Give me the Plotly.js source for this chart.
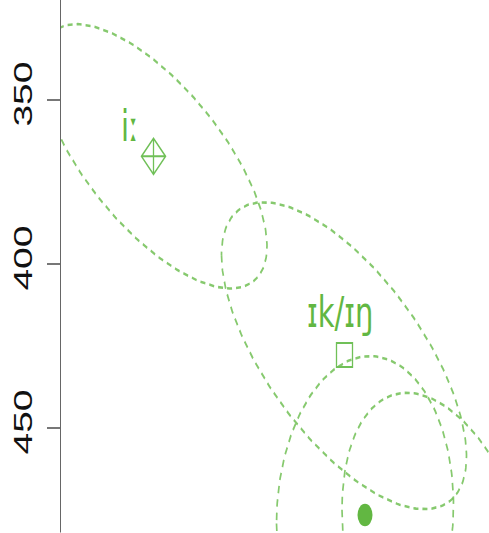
<!DOCTYPE html>
<html>
<head>
<meta charset="utf-8">
<script src="https://cdn.plot.ly/plotly-3.0.1.min.js"></script>
<style>
html, body { margin: 0; padding: 0; background: #fff; overflow: hidden; }
#wrap { width: 489px; height: 533px; overflow: hidden; position: relative; background: #fff; }
#chart { width: 489px; transform-origin: 0 0; }
</style>
</head>
<body>
<div id="wrap"><div id="chart"></div></div>
<script>
// ---- data (F2 / F1 in Hz) ----
const vowelLabels = ['iː', 'ɪk/ɪŋ', ''];
const meanF2 = [2615, 2233, 2192];
const meanF1 = [367.2, 427.8, 476.6];

// ellipse centres, half-extents and F2/F1 correlation
const ellF2 = [2615, 2234, 2192, 2036];
const ellF1 = [367.2, 428.0, 476.4, 494.7];
const ellHalfF2 = [227, 245, 177, 202];
const ellHalfF1 = [40.3, 46.8, 48.3, 55.4];
const ellRho = [-0.68, -0.656, 0.057, -0.356];

const yTicks = [350, 400, 450];

// ---- styling ----
const STRETCH = 1.5;           // vertical aspect of the original picture
const W = 489, H = 533;
const green = 'rgb(98,183,66)';
const ellColor = 'rgba(104,188,74,0.8)';
const symbols = ['diamond-cross-open', 'square-open', 'circle'];
const sizes = [18.5, 16, 15];
const labelShift = [[-24, 20], [-4, 29], [0, 0]];

document.getElementById('chart').style.height = (H / STRETCH) + 'px';
document.getElementById('chart').style.transform = 'scaleY(' + STRETCH + ')';

const traces = [];
for (let i = 0; i < ellF2.length; i++) {
  const d = Math.acos(ellRho[i]);
  const xs = [], ys = [];
  const n = 240;
  for (let k = 0; k <= n; k++) {
    const t = 2 * Math.PI * k / n;
    xs.push(ellF2[i] + ellHalfF2[i] * Math.cos(t));
    ys.push(ellF1[i] + ellHalfF1[i] * Math.cos(t - d));
  }
  traces.push({
    x: xs, y: ys, type: 'scatter', mode: 'lines', hoverinfo: 'skip',
    line: { color: ellColor, width: 1.7, dash: '5px,4px' }
  });
}
for (let i = 0; i < meanF2.length; i++) {
  const filled = symbols[i] === 'circle';
  traces.push({
    x: [meanF2[i]], y: [meanF1[i]], type: 'scatter', mode: 'markers',
    marker: {
      symbol: symbols[i], size: sizes[i],
      color: filled ? green : 'rgb(112,192,88)',
      line: { color: filled ? green : 'rgb(112,192,88)', width: filled ? 0 : 1.3 }
    }
  });
}

const annotations = [];
for (let i = 0; i < vowelLabels.length; i++) {
  if (!vowelLabels[i]) continue;
  annotations.push({
    x: meanF2[i], y: meanF1[i], xref: 'x', yref: 'y',
    text: vowelLabels[i], showarrow: false,
    xanchor: 'center', yanchor: 'middle',
    xshift: labelShift[i][0], yshift: labelShift[i][1],
    font: { family: 'DejaVu Sans', size: 29, color: green }
  });
}

const layout = {
  width: W, height: H / STRETCH,
  margin: { l: 61, r: 0, t: 0, b: 0, pad: 0 },
  paper_bgcolor: '#fff', plot_bgcolor: '#fff',
  showlegend: false,
  xaxis: { range: [2800, 1944], visible: false, showgrid: false, zeroline: false },
  yaxis: {
    range: [481.9, 319.54], tickvals: yTicks, ticktext: yTicks.map(String),
    ticks: 'outside', ticklen: 12.7, tickwidth: 1, tickcolor: '#777',
    showline: true, linecolor: '#666', linewidth: 1.5,
    showgrid: false, zeroline: false, tickangle: -90,
    ticklabelstandoff: 4,
    tickfont: { family: 'Liberation Sans, Arial', size: 26, color: '#111' }
  },
  annotations: annotations
};

Plotly.newPlot('chart', traces, layout, { staticPlot: true, displayModeBar: false });
</script>
</body>
</html>
